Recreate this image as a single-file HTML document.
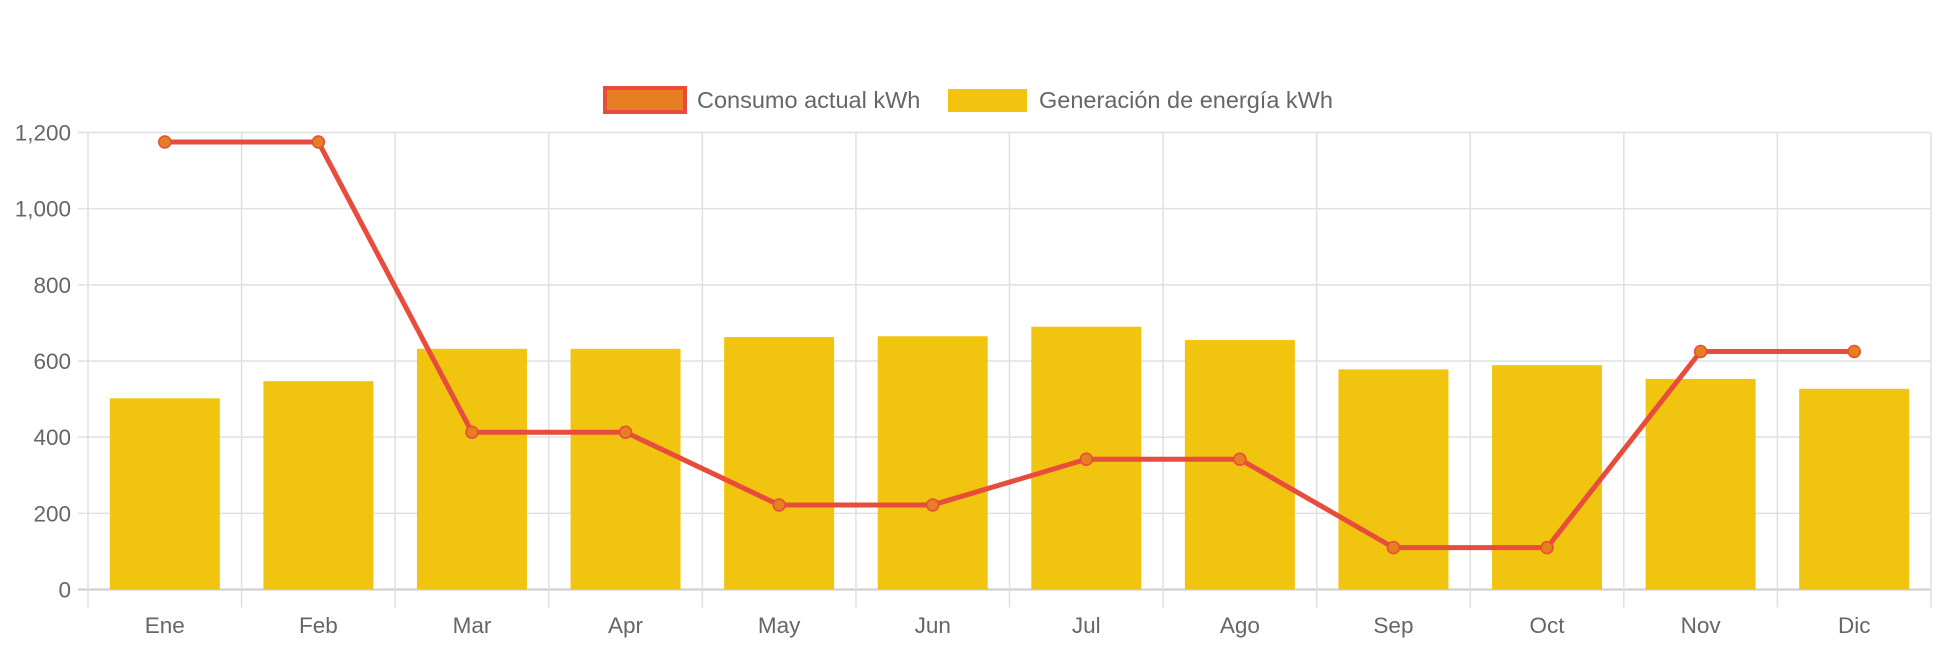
<!DOCTYPE html>
<html><head><meta charset="utf-8"><style>
body{margin:0;background:#fff;width:1942px;height:646px;overflow:hidden;font-family:"Liberation Sans",Arial,sans-serif}
</style></head><body>
<svg id="chart" width="1942" height="646" xmlns="http://www.w3.org/2000/svg">
<g id="legend">
<g>
<rect x="605" y="88" width="80" height="24" fill="#e67e22" stroke="#e74c3c" stroke-width="4"/>
<text x="697" y="108" font-size="23.5" fill="#666">Consumo actual kWh</text></g>
<g>
<rect x="948" y="89" width="79" height="23" fill="#f1c40f"/>
<text x="1039" y="108" font-size="23.5" fill="#666">Generación de energía kWh</text></g>
</g>
<g id="grid"></g>
<g id="bars"></g>
<g id="line"></g>
<g id="labels"></g>
</svg>
<script>
const categories=["Ene","Feb","Mar","Apr","May","Jun","Jul","Ago","Sep","Oct","Nov","Dic"];
const generacion=[502,547,632,632,663,665,690,655,578,589,553,527];
const consumo=[1175,1175,413,413,222,222,342,342,110,110,625,625];
const yTicks=[0,200,400,600,800,1000,1200];
const yTickLabels=["0","200","400","600","800","1,000","1,200"];
const NS="http://www.w3.org/2000/svg";
const L=88,R=1931,T=132.5,B=589.5,YMAX=1200;
const cw=(R-L)/categories.length;
const y=v=>B-(v/YMAX)*(B-T);
const xc=i=>L+cw*(i+0.5);
function mk(t,a,p){const e=document.createElementNS(NS,t);for(const k in a)e.setAttribute(k,a[k]);p.appendChild(e);return e;}
const g=document.getElementById('grid'),lb=document.getElementById('labels');
yTicks.forEach((v,i)=>{
 const ln=mk('line',{x1:L-10,x2:R,y1:y(v),y2:y(v),stroke:v===0?'#ccc':'#e0e0e0','stroke-width':v===0?2:1.5},g);
 
 
 const t=mk('text',{x:L-17,y:y(v)+8,'text-anchor':'end','font-size':22.5,fill:'#666'},lb);
 t.textContent=yTickLabels[i];
 
 
});
for(let i=0;i<=categories.length;i++){
 const ln=mk('line',{x1:L+cw*i,x2:L+cw*i,y1:T,y2:B+18,stroke:'#e0e0e0','stroke-width':1.5},g);
 
 
}
const bg=document.getElementById('bars');
categories.forEach((c,i)=>{
 const bw=110;
 const r=mk('rect',{x:xc(i)-bw/2,y:y(generacion[i]),width:bw,height:B-y(generacion[i]),fill:'#f1c40f'},bg);
 
 
 const t=mk('text',{x:xc(i),y:633,'text-anchor':'middle','font-size':22.5,fill:'#666'},lb);
 t.textContent=c;
 
 
});
const lg=document.getElementById('line');
const pl=mk('polyline',{points:consumo.map((v,i)=>xc(i)+','+y(v)).join(' '),fill:'none',stroke:'#e74c3c','stroke-width':5,'stroke-linejoin':'round'},lg);


consumo.forEach((v,i)=>{
 const c=mk('circle',{cx:xc(i),cy:y(v),r:6,fill:'#e67e22',stroke:'#e74c3c','stroke-width':1.5},lg);
 
 
});
</script>
</body></html>
